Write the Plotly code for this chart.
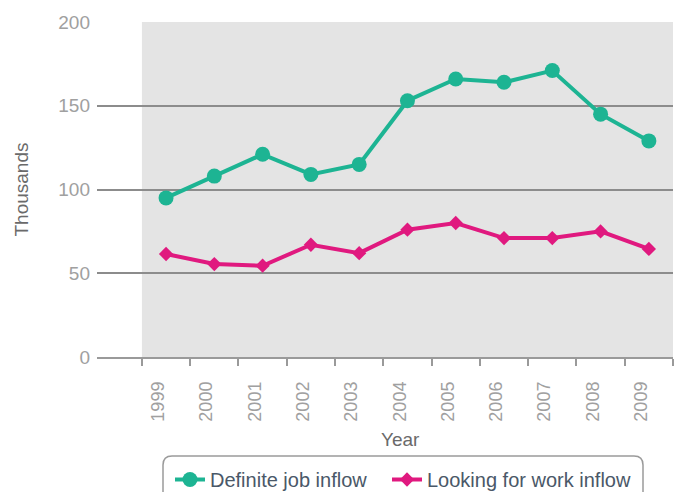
import plotly.graph_objects as go

years = [1999, 2000, 2001, 2002, 2003, 2004, 2005, 2006, 2007, 2008, 2009]
definite_job = [95, 108, 121, 109, 115, 153, 166, 164, 171, 145, 129]
looking_work = [61.5, 55.5, 54.5, 67, 62, 76, 80, 71, 71, 75, 64.5]
year_labels = [str(y) for y in years]
y_ticks = [0, 50, 100, 150, 200]

TEAL = "#1DB493"
MAGENTA = "#E0197F"
FONT = "Liberation Sans, Arial, sans-serif"

fig = go.Figure()
fig.add_trace(go.Scatter(
    x=years, y=definite_job, name="Definite job inflow", mode="lines+markers",
    line=dict(color=TEAL, width=4), marker=dict(symbol="circle", size=15, color=TEAL),
    legend="legend",
))
fig.add_trace(go.Scatter(
    x=years, y=looking_work, name="Looking for work inflow", mode="lines+markers",
    line=dict(color=MAGENTA, width=4), marker=dict(symbol="diamond", size=11, color=MAGENTA),
    legend="legend2",
))

boundaries = [y - 0.5 for y in years] + [years[-1] + 0.5]
x_range = [years[0] - 1.43, years[-1] + 0.5]

fig.add_shape(type="rect", xref="x", yref="paper", x0=boundaries[0], x1=boundaries[-1],
              y0=0, y1=1, fillcolor="#E4E4E4", line=dict(width=0), layer="below")

x0, x1, y0, y1, r = 163, 643, 456, 500, 9
W, H = 676, 492
ml, mr, mt, mb = 97, 3, 22, 135
pw, ph = W - ml - mr, H - mt - mb
def px(xp): return (xp - ml) / pw
def py(yp): return (H - mb - yp) / ph
path = (f"M {px(x0)},{py(y0 + r)} Q {px(x0)},{py(y0)} {px(x0 + r)},{py(y0)} "
        f"L {px(x1 - r)},{py(y0)} Q {px(x1)},{py(y0)} {px(x1)},{py(y0 + r)} "
        f"L {px(x1)},{py(y1)} L {px(x0)},{py(y1)} Z")
fig.add_shape(type="path", xref="paper", yref="paper", path=path,
              line=dict(color="#9A9A9A", width=1.5), fillcolor="rgba(0,0,0,0)")

fig.add_annotation(text="Year", xref="x", yref="paper", x=(boundaries[0] + boundaries[-1]) / 2 - 0.15,
                   y=py(439), showarrow=False, xanchor="center", yanchor="middle",
                   font=dict(family=FONT, size=19, color="#6A6A6A"))

leg_common = dict(orientation="h", xanchor="left", yanchor="top",
                  font=dict(family=FONT, size=20, color="#4A5868"),
                  bgcolor="rgba(0,0,0,0)", borderwidth=0, itemwidth=30)

fig.update_layout(
    width=W, height=H,
    margin=dict(l=ml, r=mr, t=mt, b=mb, autoexpand=False),
    plot_bgcolor="white", paper_bgcolor="white",
    font=dict(family=FONT),
    showlegend=True,
    legend=dict(x=px(170), y=py(460), **leg_common),
    legend2=dict(x=px(387), y=py(460), **leg_common),
    xaxis=dict(range=x_range, tickvals=boundaries, ticktext=[""] * len(boundaries),
               ticks="outside", ticklen=7, tickwidth=1.5, tickcolor="#9A9A9A",
               showgrid=False, zeroline=False, showline=True, linecolor="#9A9A9A", linewidth=1.5),
    xaxis2=dict(range=x_range, overlaying="x", anchor="y", side="bottom",
                tickvals=[y - 0.16 for y in years], ticktext=year_labels, tickangle=-90,
                ticks="", showgrid=False, zeroline=False, showline=False,
                ticklabelstandoff=20,
                tickfont=dict(family=FONT, size=18, color="#A0A0A0")),
    yaxis=dict(range=[0, 200], tickvals=y_ticks, showgrid=True, gridcolor="#8C8C8C", gridwidth=1.5,
               zeroline=False, showline=False, ticks="", ticklabelstandoff=6,
               tickfont=dict(family=FONT, size=19, color="#A0A0A0"),
               title=dict(text="Thousands", font=dict(family=FONT, size=19, color="#6A6A6A"), standoff=24)),
)
fig.add_trace(go.Scatter(x=[years[0]], y=[None], xaxis="x2", showlegend=False, hoverinfo="skip"))

fig.write_html("out.html", config={"displayModeBar": False},
               post_script="document.body.style.margin='0';document.body.style.overflow='hidden';")
